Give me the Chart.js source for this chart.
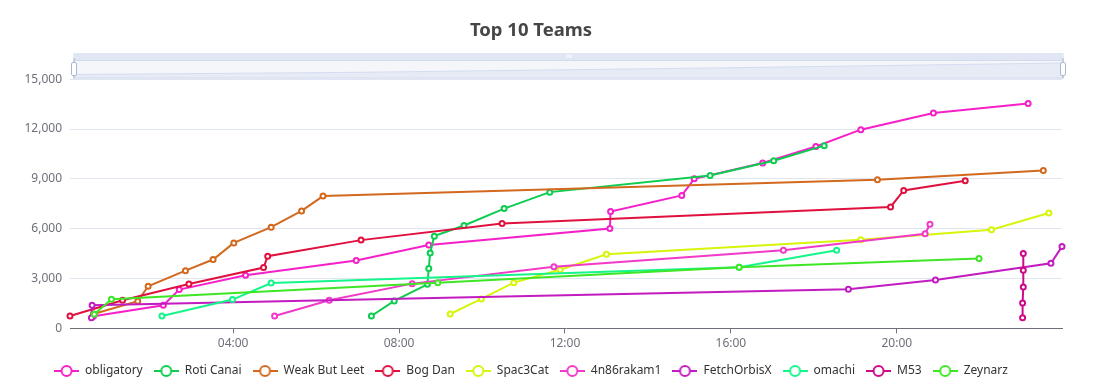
<!DOCTYPE html>
<html><head><meta charset="utf-8">
<script src="https://cdn.jsdelivr.net/npm/chart.js@4.4.0/dist/chart.umd.min.js"></script>
<style>html,body{margin:0;padding:0;background:#fff}#wrap{width:1100px;height:390px}</style>
</head><body><div id="wrap"><canvas id="c" width="1100" height="390"></canvas></div>
<script>
const teamNames = ["obligatory","Roti Canai","Weak But Leet","Bog Dan","Spac3Cat","4n86rakam1","FetchOrbisX","omachi","M53","Zeynarz"];
const teamColors = ["#f520c8","#0ccd4f","#d2691e","#e0103f","#d6f50a","#f23ac8","#c21bc0","#14f58a","#cc0a8a","#3ee625"];

const obligatory = [["00:38",720],["02:19",1390],["02:42",2330],["04:18",3200],["06:58",4080],["08:43",5020],["13:05",6010],["13:06",7030],["14:49",8000],["15:07",9000],["16:46",9950],["18:03",10950],["19:08",11960],["20:53",12970],["23:10",13530]];
const rotiCanai = [["07:20",740],["07:53",1650],["08:41",2650],["08:43",3600],["08:45",4540],["08:51",5550],["09:34",6190],["10:32",7210],["11:38",8200],["15:30",9200],["17:02",10090],["18:15",11000]];
const weakButLeet = [["00:38",860],["01:42",1630],["01:57",2530],["02:51",3470],["03:31",4140],["04:01",5140],["04:55",6090],["05:39",7070],["06:10",7960],["19:32",8940],["23:32",9500]];
const bogDan = [["00:04",740],["01:20",1690],["02:56",2670],["04:44",3660],["04:50",4340],["07:05",5310],["10:29",6310],["19:51",7310],["20:10",8300],["21:39",8880]];
const spac3Cat = [["09:14",860],["09:59",1770],["10:46",2750],["11:53",3530],["13:00",4460],["19:08",5330],["22:17",5930],["23:40",6940]];
const rakam = [["05:00",740],["06:19",1690],["08:19",2690],["11:44",3700],["17:16",4700],["20:41",5690],["20:48",6270]];
const fetchOrbisX = [["00:35",640],["00:36",1390],["18:50",2350],["20:56",2910],["23:43",3920],["23:59",4920]];
const omachi = [["02:17",740],["03:59",1730],["04:55",2730],["16:12",3680],["18:33",4700]];
const m53 = [["23:02",640],["23:02",1530],["23:03",2490],["23:03",3500],["23:03",4500]];
const zeynarz = [["00:39",840],["01:04",1750],["08:56",2750],["16:12",3680],["21:59",4200]];

const seriesData = [obligatory, rotiCanai, weakButLeet, bogDan, spac3Cat, rakam, fetchOrbisX, omachi, m53, zeynarz];
const xTickLabels = ["04:00","08:00","12:00","16:00","20:00"];
const yTickValues = [0,3000,6000,9000,12000,15000];

function toH(t){const p=t.split(":");return +p[0]+ +p[1]/60;}
function fmt(h){const m=Math.round(h*60);const hh=Math.floor(m/60),mm=m%60;return String(hh).padStart(2,"0")+":"+String(mm).padStart(2,"0");}

const allX = seriesData.flat().map(p=>toH(p[0]));
const xMin = Math.min(...allX), xMax = Math.max(...allX);

function makeIcon(color){
  const c=document.createElement("canvas");c.width=25;c.height=14;
  const g=c.getContext("2d");
  g.strokeStyle=color;g.lineWidth=2;
  g.beginPath();g.moveTo(0,7);g.lineTo(25,7);g.stroke();
  g.beginPath();g.arc(12.5,7,5,0,Math.PI*2);g.fillStyle="#fff";g.fill();g.stroke();
  return c;
}
const icons = teamColors.map(makeIcon);

Chart.defaults.font.family = "'Noto Sans', sans-serif";
Chart.defaults.font.size = 12;

const sliderPlugin = {
  id:"slider",
  afterDraw(chart){
    const ctx=chart.ctx, a=chart.chartArea;
    const x0=a.left+3.5, x1=a.right+1.5, yT=53, yB=78.5;
    ctx.save();
    ctx.fillStyle="#f5f6f9"; ctx.fillRect(x0,yT,x1-x0,yB-yT);
    const w=x1-x0;
    const pts=[[0,74.5],[0.29,72.3],[0.66,67.8],[1,63]];
    ctx.beginPath();
    pts.forEach((p,i)=>{const X=x0+p[0]*w; if(i===0)ctx.moveTo(X,p[1]); else ctx.lineTo(X,p[1]);});
    ctx.lineTo(x1,yB);ctx.lineTo(x0,yB);ctx.closePath();
    ctx.fillStyle="#e6ebf6";ctx.fill();
    ctx.beginPath();
    pts.forEach((p,i)=>{const X=x0+p[0]*w; if(i===0)ctx.moveTo(X,p[1]); else ctx.lineTo(X,p[1]);});
    ctx.strokeStyle="#d4ddf2";ctx.lineWidth=1;ctx.stroke();
    ctx.fillStyle="#e0e6f3"; ctx.fillRect(x0,yT,w,7);
    ctx.strokeStyle="#d2dbee";ctx.lineWidth=1;
    ctx.strokeRect(x0+0.5,yT+7.5,w-1,yB-yT-8);
    ctx.strokeStyle="#ffffff";ctx.lineWidth=1;
    const cx=(x0+x1)/2;
    [-2,0,2].forEach(d=>{ctx.beginPath();ctx.moveTo(cx+d+0.5,54.5);ctx.lineTo(cx+d+0.5,58);ctx.stroke();});
    [x0+0.5,x1-0.5].forEach(X=>{
      ctx.strokeStyle="#acb8d1";ctx.lineWidth=1;
      ctx.beginPath();ctx.moveTo(X,58);ctx.lineTo(X,yB);ctx.stroke();
      ctx.fillStyle="#ffffff";
      ctx.beginPath();
      if(ctx.roundRect) ctx.roundRect(X-2.5,62.5,5,13,1.5); else ctx.rect(X-2.5,62.5,5,13);
      ctx.fill();ctx.stroke();
    });
    ctx.restore();
  }
};

const datasets = seriesData.map((s,i)=>({
  label: teamNames[i],
  data: s.map(p=>({x:toH(p[0]), y:p[1]})),
  borderColor: teamColors[i],
  backgroundColor: "#ffffff",
  pointBackgroundColor: "#ffffff",
  pointBorderColor: teamColors[i],
  pointRadius: 2.5,
  pointBorderWidth: 2,
  borderWidth: 2,
  tension: 0,
  clip: 8,
  order: seriesData.length - i
}));

new Chart(document.getElementById("c"), {
  type: "line",
  data: { datasets },
  options: {
    responsive: false,
    animation: false,
    layout: { padding: { left: 0, right: 38, top: 0, bottom: 3 } },
    plugins: {
      title: { display: true, text: "Top 10 Teams", color: "#464646", font: { size: 18.5, weight: "bold" }, padding: { top: 20, bottom: 37 } },
      legend: {
        position: "bottom",
        labels: {
          color: "#333333",
          usePointStyle: true,
          pointStyleWidth: 25,
          boxHeight: 14,
          padding: 11,
          font: { size: 12 },
          sort: (a,b) => a.datasetIndex - b.datasetIndex,
          generateLabels(chart){
            const items = Chart.defaults.plugins.legend.labels.generateLabels(chart);
            items.forEach(it=>{ it.pointStyle = icons[it.datasetIndex]; });
            return items;
          }
        }
      },
      tooltip: { enabled: false }
    },
    scales: {
      x: {
        type: "linear",
        min: xMin, max: xMax,
        afterBuildTicks(s){ s.ticks = xTickLabels.map(t=>({value: toH(t)})); },
        afterFit(s){ s.height = 25.7; },
        ticks: { color: "#6e7079", padding: 3, maxRotation: 0, autoSkip: false, callback: v => fmt(v) },
        grid: { drawOnChartArea: false, drawTicks: true, tickLength: 5, color: "#6e7079" },
        border: { display: true, color: "#6e7079", width: 1 }
      },
      y: {
        min: 0, max: 15000,
        afterBuildTicks(s){ s.ticks = yTickValues.map(v=>({value:v})); },
        afterFit(s){ s.width = 70; },
        ticks: { color: "#6e7079", padding: 8, callback: v => v.toLocaleString("en-US") },
        grid: { color: "#e0e6f1", drawTicks: false },
        border: { display: false }
      }
    }
  },
  plugins: [sliderPlugin]
});
</script>
</body></html>
